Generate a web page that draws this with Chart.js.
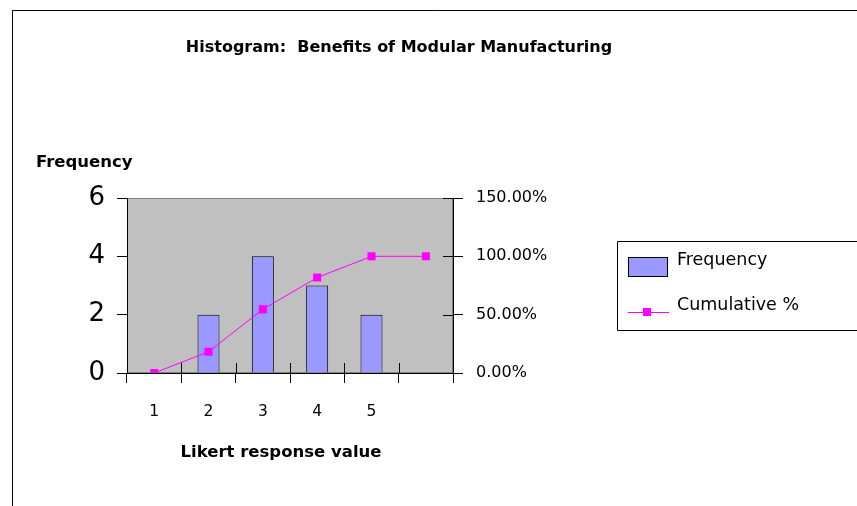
<!DOCTYPE html>
<html>
<head>
<meta charset="utf-8">
<script src="https://cdn.jsdelivr.net/npm/chart.js@4.4.1/dist/chart.umd.min.js"></script>
<style>
  html, body { margin: 0; padding: 0; background: #fff; }
  #wrap { position: relative; width: 857px; height: 506px; }
</style>
</head>
<body>
<div id="wrap"><canvas id="histChart" width="857" height="506"></canvas></div>
<script>
// --- Daten ---
const categories = ['1', '2', '3', '4', '5', ''];
const frequency = [0, 2, 4, 3, 2, 0];
const cumulative = [0, 18.18, 54.55, 81.82, 100, 100];
const freqTicks = [0, 2, 4, 6];
const pctTicks = [0, 50, 100, 150];

const FONT = '"DejaVu Sans", sans-serif';

// --- Hintergrund, Rahmen, Titel und Legende ---
const decorPlugin = {
    id: 'decor',
    beforeDraw(chart) {
        const { ctx, chartArea: a } = chart;
        ctx.save();
        ctx.fillStyle = '#c0c0c0';
        ctx.fillRect(a.left, a.top, a.right - a.left, a.bottom - a.top);
        ctx.strokeStyle = '#808080';
        ctx.lineWidth = 1;
        ctx.strokeRect(a.left + 0.5, a.top + 0.5, a.right - a.left - 1, a.bottom - a.top - 1);
        ctx.restore();
    },
    afterDraw(chart) {
        const { ctx, chartArea: a } = chart;
        const x = chart.scales.x;
        const y1 = chart.scales.y1;
        ctx.save();

        // aeusserer Rahmen
        ctx.strokeStyle = '#000';
        ctx.lineWidth = 1;
        ctx.beginPath();
        ctx.moveTo(12.5, 506);
        ctx.lineTo(12.5, 10.5);
        ctx.lineTo(857, 10.5);
        ctx.stroke();

        // Striche innerhalb der Zeichenflaeche (Excel-Stil, kreuzend)
        ctx.beginPath();
        const half = (x.getPixelForValue(1) - x.getPixelForValue(0)) / 2;
        for (let i = 0; i <= categories.length; i++) {
            const px = Math.round(x.getPixelForValue(0) - half + i * half * 2) + 0.5;
            ctx.moveTo(px, a.bottom);
            ctx.lineTo(px, a.bottom - 10);
        }
        pctTicks.forEach(v => {
            const py = Math.round(y1.getPixelForValue(v)) + 0.5;
            ctx.moveTo(a.right, py);
            ctx.lineTo(a.right - 10, py);
        });
        ctx.stroke();

        // Texte
        ctx.fillStyle = '#000';
        ctx.textBaseline = 'middle';
        ctx.textAlign = 'center';
        ctx.font = 'bold 16px ' + FONT;
        ctx.fillText('Histogram:  Benefits of Modular Manufacturing', 399, 48);
        ctx.font = 'bold 16.5px ' + FONT;
        ctx.fillText('Likert response value', 281, 453);
        ctx.textAlign = 'left';
        ctx.fillText('Frequency', 36, 163);

        // Legende
        ctx.strokeStyle = '#000';
        ctx.beginPath();
        ctx.moveTo(857, 241.5);
        ctx.lineTo(617.5, 241.5);
        ctx.lineTo(617.5, 330.5);
        ctx.lineTo(857, 330.5);
        ctx.stroke();

        const bars = chart.data.datasets.find(d => d.label === 'Frequency');
        const line = chart.data.datasets.find(d => d.label === 'Cumulative %');
        ctx.fillStyle = bars.backgroundColor;
        ctx.fillRect(628, 257, 40, 20);
        ctx.strokeStyle = bars.borderColor;
        ctx.strokeRect(628.5, 257.5, 39, 19);

        ctx.strokeStyle = line.borderColor;
        ctx.beginPath();
        ctx.moveTo(628, 312.5);
        ctx.lineTo(669, 312.5);
        ctx.stroke();
        ctx.fillStyle = line.pointBackgroundColor;
        ctx.fillRect(643, 308, 8, 8);

        ctx.fillStyle = '#000';
        ctx.font = '17.5px ' + FONT;
        ctx.fillText(bars.label, 677, 260);
        ctx.fillText(line.label, 677, 305);
        ctx.restore();
    }
};

new Chart(document.getElementById('histChart'), {
    type: 'bar',
    data: {
        labels: categories,
        datasets: [
            {
                type: 'line',
                label: 'Cumulative %',
                data: cumulative,
                yAxisID: 'y1',
                borderColor: '#ff00ff',
                borderWidth: 1,
                pointStyle: 'rect',
                pointRadius: 5.7,
                pointBackgroundColor: '#ff00ff',
                pointBorderWidth: 0,
                tension: 0,
                order: 0
            },
            {
                label: 'Frequency',
                data: frequency,
                yAxisID: 'y',
                backgroundColor: '#9999ff',
                borderColor: '#000',
                borderWidth: 1,
                barPercentage: 0.405,
                categoryPercentage: 1,
                order: 1
            }
        ]
    },
    options: {
        responsive: false,
        animation: false,
        layout: { padding: { top: 198, left: 0, right: 0, bottom: 0 } },
        plugins: {
            legend: { display: false },
            title: { display: false },
            tooltip: { enabled: false }
        },
        scales: {
            x: {
                grid: { drawOnChartArea: false, color: '#000', tickLength: 10, offset: true },
                border: { color: '#000' },
                ticks: { color: '#000', font: { family: FONT, size: 15.5 }, padding: 20, maxRotation: 0 },
                afterFit(s) { s.height = 133; }
            },
            y: {
                position: 'left',
                min: 0, max: 6,
                afterBuildTicks(s) { s.ticks = freqTicks.map(v => ({ value: v })); },
                grid: { drawOnChartArea: false, color: '#000', tickLength: 10 },
                border: { color: '#000' },
                ticks: { color: '#000', font: { family: FONT, size: 26 }, padding: 12 },
                afterFit(s) { s.width = 127; }
            },
            y1: {
                position: 'right',
                min: 0, max: 150,
                afterBuildTicks(s) { s.ticks = pctTicks.map(v => ({ value: v })); },
                grid: { drawOnChartArea: false, color: '#000', tickLength: 10 },
                border: { color: '#000' },
                ticks: {
                    color: '#000', font: { family: FONT, size: 16 }, padding: 13,
                    callback: v => v.toFixed(2) + '%'
                },
                afterFit(s) { s.width = 404; }
            }
        }
    },
    plugins: [decorPlugin]
});
</script>
</body>
</html>
